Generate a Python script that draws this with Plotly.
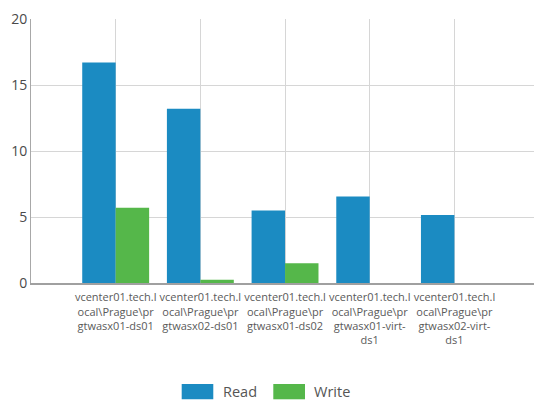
import plotly.graph_objects as go

# Datastore latency per datastore (ms)
categories = [
    "vcenter01.tech.l<br>ocal\\Prague\\pr<br>gtwasx01-ds01",
    "vcenter01.tech.l<br>ocal\\Prague\\pr<br>gtwasx02-ds01",
    "vcenter01.tech.l<br>ocal\\Prague\\pr<br>gtwasx01-ds02",
    "vcenter01.tech.l<br>ocal\\Prague\\pr<br>gtwasx01-virt-<br>ds1",
    "vcenter01.tech.l<br>ocal\\Prague\\pr<br>gtwasx02-virt-<br>ds1",
]
read_values = [16.7, 13.2, 5.5, 6.55, 5.15]
write_values = [5.7, 0.25, 1.5, 0, 0]
y_ticks = [0, 5, 10, 15, 20]

READ_COLOR = "#1b8bc2"
WRITE_COLOR = "#55b74a"
FONT = "Open Sans, Noto Sans, sans-serif"

fig = go.Figure()
fig.add_trace(go.Bar(name="Read", x=list(range(len(categories))), y=read_values,
                     marker=dict(color=READ_COLOR, line=dict(width=0))))
fig.add_trace(go.Bar(name="Write", x=list(range(len(categories))), y=write_values,
                     marker=dict(color=WRITE_COLOR, line=dict(width=0))))

fig.update_layout(
    width=534, height=401,
    margin=dict(l=31, r=0, t=19, b=118),
    paper_bgcolor="white", plot_bgcolor="white",
    barmode="group", bargap=0.21, bargroupgap=0,
    showlegend=False,
    font=dict(family=FONT, color="#555555"),
)
fig.update_xaxes(
    tickmode="array", tickvals=list(range(len(categories))), ticktext=categories,
    range=[-1, 4.94], showgrid=True, gridcolor="#d6d6d6", gridwidth=1,
    showline=True, linecolor="#a0a0a0", linewidth=2,
    tickfont=dict(size=11, color="#5a5a5a", family=FONT),
    ticks="", tickangle=0, zeroline=False, ticklabelstandoff=3,
)
fig.update_yaxes(
    range=[0, 20], tickvals=y_ticks, showgrid=True, gridcolor="#d6d6d6", gridwidth=1,
    showline=True, linecolor="#a8a8a8", linewidth=1,
    tickfont=dict(size=14, color="#4a4a4a", family=FONT),
    ticks="", zeroline=False, mirror=False,
)

# Legend drawn with wide swatches below the axis labels
legend_items = [("Read", READ_COLOR, 0.2996, 0.3624), ("Write", WRITE_COLOR, 0.4817, 0.5447)]
for name, color, x0, x1 in legend_items:
    fig.add_shape(type="rect", xref="paper", yref="paper", x0=x0, x1=x1,
                  y0=-0.4405, y1=-0.3826, fillcolor=color, line=dict(width=0))
    fig.add_annotation(xref="paper", yref="paper", x=x1 + 0.0147, y=-0.4117,
                       text=name, showarrow=False, xanchor="left", yanchor="middle",
                       font=dict(size=14.5, color="#555555", family=FONT))

fig.write_html("out.html")
